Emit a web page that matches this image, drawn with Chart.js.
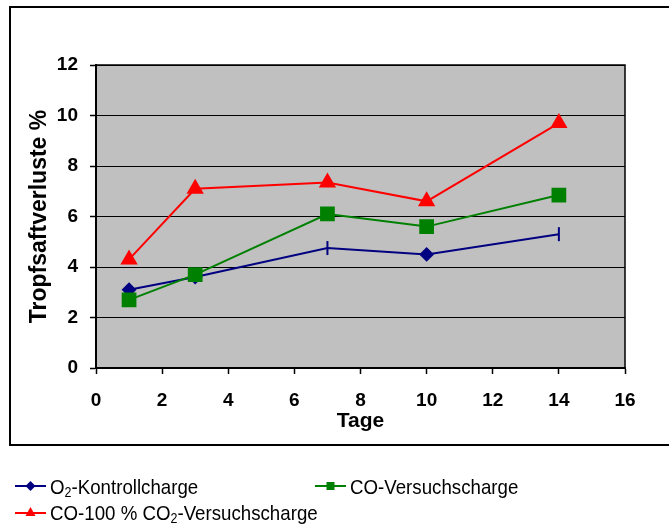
<!DOCTYPE html>
<html>
<head>
<meta charset="utf-8">
<script src="https://cdn.jsdelivr.net/npm/chart.js@4.4.1/dist/chart.umd.min.js"></script>
<style>
    html, body { margin: 0; padding: 0; background: #fff; }
    #wrap { position: relative; width: 669px; height: 529px; overflow: hidden; }
    #frame { position: absolute; left: 9px; top: 6px; width: 680px; height: 440px; border: 2px solid #000; box-sizing: border-box; }
    canvas { position: absolute; left: 0; top: 0; }
    .leg { position: absolute; font-family: "Liberation Sans", Arial, sans-serif; font-size: 21px; color: #000; white-space: nowrap; line-height: 22px; }
    .leg svg { vertical-align: middle; margin-right: 4px; position: relative; top: -2px; }
    .leg span { display: inline-block; transform: scaleX(0.89); transform-origin: left center; }
    .leg sub { font-size: 14px; vertical-align: -3px; line-height: 0; }
</style>
</head>
<body>
<div id="wrap">
    <div id="frame"></div>
    <canvas id="chart" width="669" height="529"></canvas>
    <div class="leg" style="left:15px; top:476px;">
        <svg width="31" height="12"><line x1="0" y1="6" x2="31" y2="6" stroke="#000080" stroke-width="2"/><polygon points="15.5,1 20.5,6 15.5,11 10.5,6" fill="#000080"/></svg><span>O<sub>2</sub>-Kontrollcharge</span>
    </div>
    <div class="leg" style="left:315px; top:476px;">
        <svg width="31" height="12"><line x1="0" y1="6" x2="31" y2="6" stroke="#008000" stroke-width="2"/><rect x="11.5" y="2" width="8" height="8" fill="#008000"/></svg><span>CO-Versuchscharge</span>
    </div>
    <div class="leg" style="left:15px; top:502px;">
        <svg width="31" height="12"><line x1="0" y1="7" x2="31" y2="7" stroke="#ff0000" stroke-width="2"/><polygon points="15.5,1 20.5,10 10.5,10" fill="#ff0000"/></svg><span>CO-100 % CO<sub>2</sub>-Versuchscharge</span>
    </div>
</div>
<script>
const days = [1, 3, 7, 10, 14];
const kontrolle = [3.1, 3.6, 4.75, 4.5, 5.3];
const versuchCO = [2.7, 3.7, 6.1, 5.6, 6.85];
const versuchCO2 = [4.3, 7.1, 7.35, 6.6, 9.7];
const xTicks = [0, 2, 4, 6, 8, 10, 12, 14, 16];
const yTicks = [0, 2, 4, 6, 8, 10, 12];

const toPoints = vals => vals.map((v, i) => ({ x: days[i], y: v }));

// grey plot area and the top/right edge of it
const plotBackground = {
    id: "plotBackground",
    beforeDraw(chart) {
        const { ctx, chartArea: a } = chart;
        ctx.save();
        ctx.fillStyle = "#c0c0c0";
        ctx.fillRect(a.left, a.top, a.right - a.left, a.bottom - a.top);
        ctx.restore();
    },
    afterDatasetsDraw(chart) {
        const { ctx, chartArea: a } = chart;
        ctx.save();
        ctx.strokeStyle = "#000";
        ctx.lineWidth = 1.5;
        ctx.beginPath();
        ctx.moveTo(a.left, a.top);
        ctx.lineTo(a.right, a.top);
        ctx.lineTo(a.right, a.bottom);
        ctx.stroke();
        ctx.restore();
    },
};

const tickFont = { family: "'Liberation Sans', Arial, sans-serif", size: 19, weight: "bold" };
const titleFont = { family: "'Liberation Sans', Arial, sans-serif", size: 21, weight: "bold" };

new Chart(document.getElementById("chart"), {
    type: "line",
    data: {
        datasets: [
            {
                label: "O2-Kontrollcharge",
                data: toPoints(kontrolle),
                borderColor: "#000080",
                backgroundColor: "#000080",
                borderWidth: 2,
                pointStyle: ["rectRot", "rectRot", "line", "rectRot", "line"],
                pointRotation: [0, 0, 90, 0, 90],
                pointRadius: [6, 6, 7, 6, 7],
                pointBorderWidth: 2,
                order: 3,
            },
            {
                label: "CO-Versuchscharge",
                data: toPoints(versuchCO),
                borderColor: "#008000",
                backgroundColor: "#008000",
                borderWidth: 2,
                pointStyle: "rect",
                pointRadius: 9,
                order: 2,
            },
            {
                label: "CO-100 % CO2-Versuchscharge",
                data: toPoints(versuchCO2),
                borderColor: "#ff0000",
                backgroundColor: "#ff0000",
                borderWidth: 2,
                pointStyle: "triangle",
                pointRadius: 8,
                order: 1,
            },
        ],
    },
    options: {
        responsive: false,
        animation: false,
        layout: { padding: { top: 65, right: 44, bottom: 95, left: 0 } },
        plugins: {
            legend: { display: false },
            tooltip: { enabled: false },
        },
        scales: {
            x: {
                type: "linear",
                min: 0,
                max: 16,
                afterBuildTicks: s => { s.ticks = xTicks.map(v => ({ value: v })); },
                afterFit: s => { s.height = 66; },
                ticks: { font: tickFont, color: "#000", padding: 15 },
                grid: { drawOnChartArea: false, tickLength: 6, color: "#000", tickWidth: 1.5 },
                border: { color: "#000", width: 2 },
                title: { display: true, text: "Tage", font: titleFont, color: "#000", padding: { top: 0, bottom: 0 } },
            },
            y: {
                min: 0,
                max: 12,
                afterBuildTicks: s => { s.ticks = yTicks.map(v => ({ value: v })); },
                afterFit: s => { s.width = 96; },
                ticks: { font: tickFont, color: "#000", padding: 12 },
                grid: { color: "#000", lineWidth: 1, tickLength: 6, tickWidth: 1.5 },
                border: { color: "#000", width: 2 },
                title: { display: true, text: "Tropfsaftverluste %", font: { ...titleFont, size: 23 }, color: "#000", padding: { top: 26, bottom: 0 } },
            },
        },
    },
    plugins: [plotBackground],
});
</script>
</body>
</html>
